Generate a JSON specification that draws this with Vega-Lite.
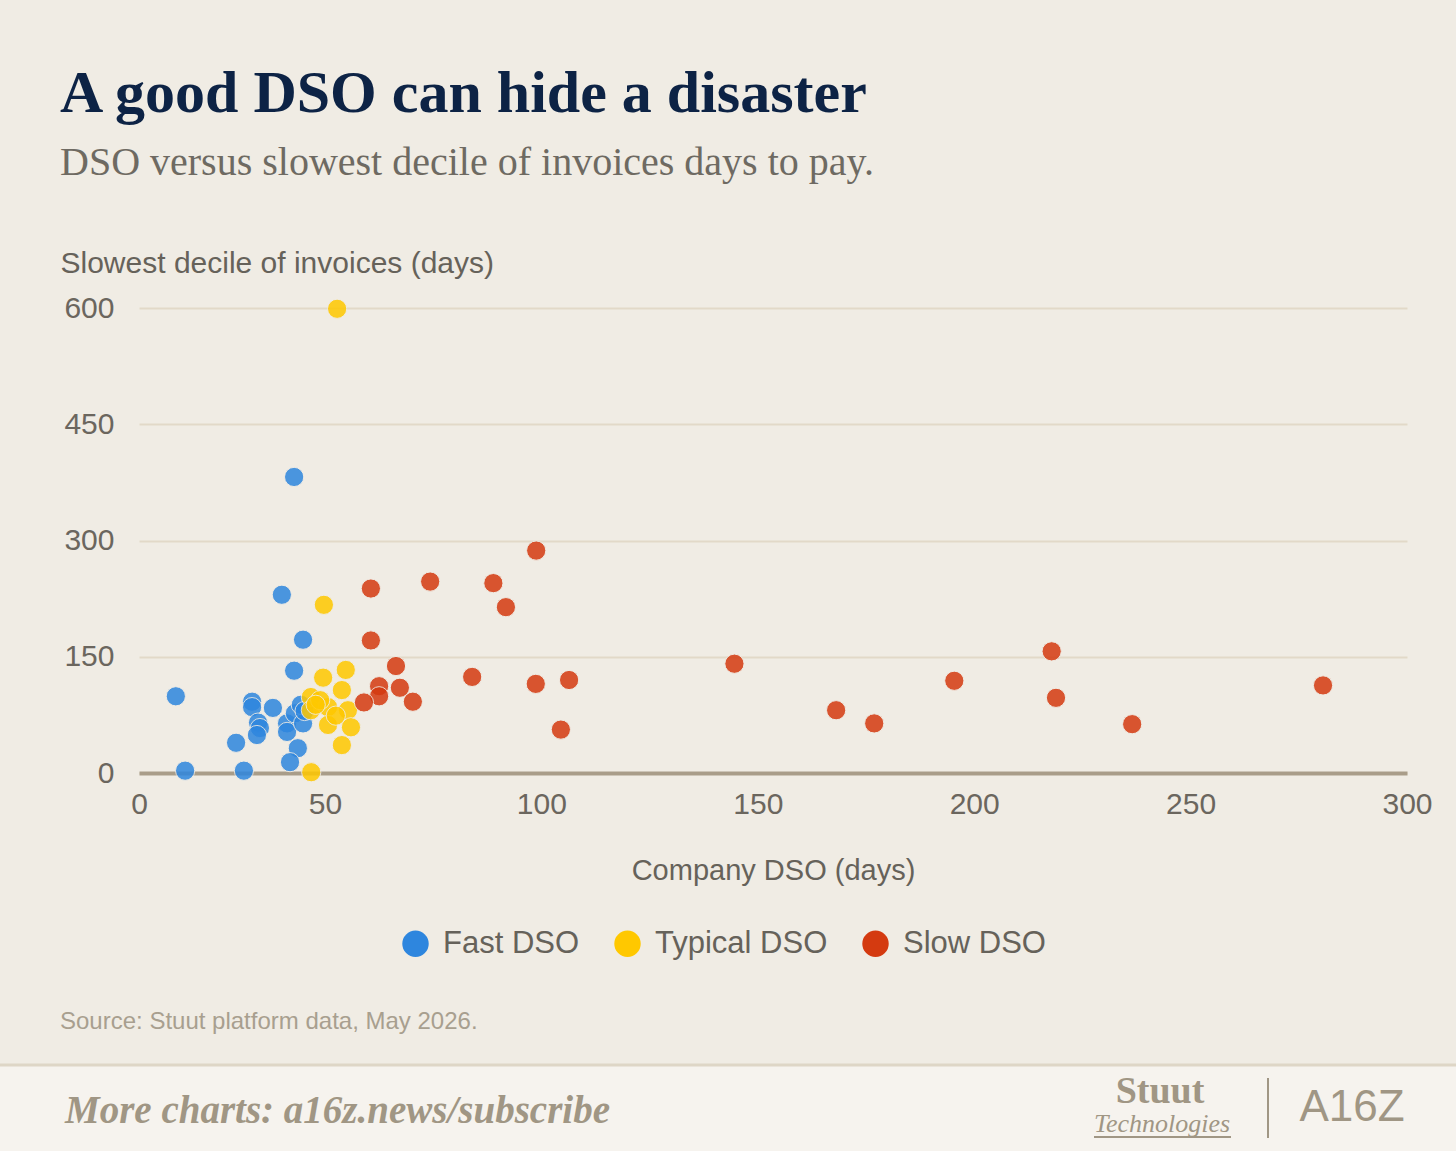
{
  "$schema": "https://vega.github.io/schema/vega-lite/v6.json",
  "width": 1268,
  "height": 465,
  "autosize": {"type": "none"},
  "padding": {"left": 139, "top": 308, "right": 49, "bottom": 378},
  "background": "#F0ECE4",
  "config": {
    "view": {"stroke": null},
    "font": "Liberation Sans"
  },
  "title": {
    "text": "A good DSO can hide a disaster",
    "subtitle": "DSO versus slowest decile of invoices days to pay.",
    "anchor": "start",
    "frame": "group",
    "dx": -79,
    "offset": 64,
    "font": "Liberation Serif",
    "fontSize": 60,
    "fontWeight": "bold",
    "color": "#0D2345",
    "subtitleFont": "Liberation Serif",
    "subtitleFontSize": 40,
    "subtitleColor": "#6E6A62",
    "subtitlePadding": 18
  },
  "datasets": {
    "invoices": [
      {"dso": 41.7, "slowest": 382, "group": "Fast DSO"},
      {"dso": 38.4, "slowest": 230, "group": "Fast DSO"},
      {"dso": 44.1, "slowest": 172, "group": "Fast DSO"},
      {"dso": 41.7, "slowest": 132, "group": "Fast DSO"},
      {"dso": 9.9, "slowest": 99, "group": "Fast DSO"},
      {"dso": 30.4, "slowest": 92, "group": "Fast DSO"},
      {"dso": 30.4, "slowest": 85, "group": "Fast DSO"},
      {"dso": 36.0, "slowest": 84, "group": "Fast DSO"},
      {"dso": 32.0, "slowest": 65, "group": "Fast DSO"},
      {"dso": 32.5, "slowest": 58, "group": "Fast DSO"},
      {"dso": 31.7, "slowest": 49, "group": "Fast DSO"},
      {"dso": 26.1, "slowest": 39, "group": "Fast DSO"},
      {"dso": 39.8, "slowest": 64, "group": "Fast DSO"},
      {"dso": 39.8, "slowest": 53, "group": "Fast DSO"},
      {"dso": 41.9, "slowest": 77, "group": "Fast DSO"},
      {"dso": 44.1, "slowest": 64, "group": "Fast DSO"},
      {"dso": 42.7, "slowest": 32, "group": "Fast DSO"},
      {"dso": 40.6, "slowest": 14, "group": "Fast DSO"},
      {"dso": 28.2, "slowest": 3, "group": "Fast DSO"},
      {"dso": 12.4, "slowest": 3, "group": "Fast DSO"},
      {"dso": 43.5, "slowest": 88, "group": "Fast DSO"},
      {"dso": 44.5, "slowest": 80, "group": "Fast DSO"},
      {"dso": 52.8, "slowest": 599, "group": "Typical DSO"},
      {"dso": 49.7, "slowest": 217, "group": "Typical DSO"},
      {"dso": 49.5, "slowest": 123, "group": "Typical DSO"},
      {"dso": 54.8, "slowest": 133, "group": "Typical DSO"},
      {"dso": 53.9, "slowest": 107, "group": "Typical DSO"},
      {"dso": 46.2, "slowest": 98, "group": "Typical DSO"},
      {"dso": 46.2, "slowest": 81, "group": "Typical DSO"},
      {"dso": 50.7, "slowest": 85, "group": "Typical DSO"},
      {"dso": 55.3, "slowest": 81, "group": "Typical DSO"},
      {"dso": 50.7, "slowest": 62, "group": "Typical DSO"},
      {"dso": 56.0, "slowest": 59, "group": "Typical DSO"},
      {"dso": 53.9, "slowest": 36, "group": "Typical DSO"},
      {"dso": 46.3, "slowest": 1, "group": "Typical DSO"},
      {"dso": 48.7, "slowest": 94, "group": "Typical DSO"},
      {"dso": 52.5, "slowest": 74, "group": "Typical DSO"},
      {"dso": 47.5, "slowest": 88, "group": "Typical DSO"},
      {"dso": 60.6, "slowest": 238, "group": "Slow DSO"},
      {"dso": 74.3, "slowest": 247, "group": "Slow DSO"},
      {"dso": 88.9, "slowest": 245, "group": "Slow DSO"},
      {"dso": 91.8, "slowest": 214, "group": "Slow DSO"},
      {"dso": 60.6, "slowest": 171, "group": "Slow DSO"},
      {"dso": 66.4, "slowest": 138, "group": "Slow DSO"},
      {"dso": 84.0, "slowest": 124, "group": "Slow DSO"},
      {"dso": 98.7, "slowest": 115, "group": "Slow DSO"},
      {"dso": 106.4, "slowest": 120, "group": "Slow DSO"},
      {"dso": 62.5, "slowest": 112, "group": "Slow DSO"},
      {"dso": 67.3, "slowest": 110, "group": "Slow DSO"},
      {"dso": 62.5, "slowest": 99, "group": "Slow DSO"},
      {"dso": 59.0, "slowest": 91, "group": "Slow DSO"},
      {"dso": 70.3, "slowest": 92, "group": "Slow DSO"},
      {"dso": 104.5, "slowest": 56, "group": "Slow DSO"},
      {"dso": 98.8, "slowest": 287, "group": "Slow DSO"},
      {"dso": 144.6, "slowest": 141, "group": "Slow DSO"},
      {"dso": 168.1, "slowest": 81, "group": "Slow DSO"},
      {"dso": 176.9, "slowest": 64, "group": "Slow DSO"},
      {"dso": 195.4, "slowest": 119, "group": "Slow DSO"},
      {"dso": 217.9, "slowest": 157, "group": "Slow DSO"},
      {"dso": 218.9, "slowest": 97, "group": "Slow DSO"},
      {"dso": 236.5, "slowest": 63, "group": "Slow DSO"},
      {"dso": 280.6, "slowest": 113, "group": "Slow DSO"}
    ],
    "note": [{"label": "note"}]
  },
  "layer": [
    {
      "data": {"name": "note"},
      "mark": {"type": "rect", "fill": "#F6F3EE"},
      "encoding": {
        "x": {"value": -139},
        "x2": {"value": 1317},
        "y": {"value": 758},
        "y2": {"value": 843}
      }
    },
    {
      "data": {"name": "note"},
      "mark": {"type": "rule", "stroke": "#DED6C6", "strokeWidth": 3},
      "encoding": {
        "x": {"value": -139},
        "x2": {"value": 1317},
        "y": {"value": 757}
      }
    },
    {
      "data": {"name": "invoices"},
      "mark": {"type": "circle", "size": 370, "opacity": 0.85, "stroke": "#F0ECE4", "strokeWidth": 1},
      "encoding": {
        "x": {
          "field": "dso",
          "type": "quantitative",
          "title": "Company DSO (days)",
          "scale": {"domain": [0, 50, 300], "range": [0, 186, 1268], "nice": false, "zero": false},
          "axis": {
            "values": [0, 50, 100, 150, 200, 250, 300],
            "grid": false,
            "ticks": false,
            "tickSize": 0,
            "labelFlush": false,
            "domainColor": "#A99D89",
            "domainWidth": 4,
            "labelPadding": 16,
            "labelFont": "Liberation Sans",
            "labelFontSize": 30,
            "labelColor": "#6B665E",
            "titleFont": "Liberation Sans",
            "titleFontSize": 29,
            "titleFontWeight": "normal",
            "titleColor": "#66625A",
            "titlePadding": 37
          }
        },
        "y": {
          "field": "slowest",
          "type": "quantitative",
          "title": "Slowest decile of invoices (days)",
          "scale": {"domain": [0, 600], "nice": false},
          "axis": {
            "values": [0, 150, 300, 450, 600],
            "domain": false,
            "ticks": false,
            "gridColor": "#E2D9C8",
            "gridWidth": 2,
            "labelPadding": 25,
            "labelFont": "Liberation Sans",
            "labelFontSize": 30,
            "labelColor": "#6B665E",
            "titleFont": "Liberation Sans",
            "titleFontSize": 30,
            "titleFontWeight": "normal",
            "titleColor": "#66625A",
            "titleAngle": 0,
            "titleAlign": "left",
            "titleBaseline": "middle",
            "titleX": -79,
            "titleY": -45
          }
        },
        "color": {
          "field": "group",
          "type": "nominal",
          "sort": ["Fast DSO", "Typical DSO", "Slow DSO"],
          "scale": {"domain": ["Fast DSO", "Typical DSO", "Slow DSO"], "range": ["#2E86DE", "#FFC800", "#D43A10"]},
          "legend": {
            "title": null,
            "orient": "none",
            "direction": "horizontal",
            "legendX": 261,
            "legendY": 620,
            "symbolType": "circle",
            "symbolSize": 700,
            "symbolOpacity": 1,
            "symbolStrokeWidth": 0,
            "labelFont": "Liberation Sans",
            "labelFontSize": 31,
            "labelColor": "#66625A",
            "labelLimit": 400,
            "labelOffset": 12,
            "columnPadding": 32
          }
        }
      }
    },
    {
      "data": {"name": "note"},
      "mark": {"type": "text", "text": "Source: Stuut platform data, May 2026.", "align": "left", "baseline": "middle", "font": "Liberation Sans", "fontSize": 24, "color": "#A89F8F"},
      "encoding": {"x": {"value": -79}, "y": {"value": 714}}
    },
    {
      "data": {"name": "note"},
      "mark": {"type": "text", "text": "More charts: a16z.news/subscribe", "align": "left", "baseline": "middle", "font": "Liberation Serif", "fontSize": 39, "fontWeight": "bold", "fontStyle": "italic", "color": "#A09684"},
      "encoding": {"x": {"value": -74}, "y": {"value": 803}}
    },
    {
      "data": {"name": "note"},
      "mark": {"type": "text", "text": "Stuut", "align": "center", "baseline": "middle", "font": "Liberation Serif", "fontSize": 38, "fontWeight": "bold", "color": "#A09684"},
      "encoding": {"x": {"value": 1021}, "y": {"value": 784}}
    },
    {
      "data": {"name": "note"},
      "mark": {"type": "text", "text": "Technologies", "align": "center", "baseline": "middle", "font": "Liberation Serif", "fontSize": 26, "fontStyle": "italic", "color": "#A09684"},
      "encoding": {"x": {"value": 1023}, "y": {"value": 816}}
    },
    {
      "data": {"name": "note"},
      "mark": {"type": "rule", "stroke": "#A09684", "strokeWidth": 2},
      "encoding": {"x": {"value": 955}, "x2": {"value": 1092}, "y": {"value": 829}}
    },
    {
      "data": {"name": "note"},
      "mark": {"type": "rule", "stroke": "#A09684", "strokeWidth": 2},
      "encoding": {"x": {"value": 1129}, "y": {"value": 770}, "y2": {"value": 830}}
    },
    {
      "data": {"name": "note"},
      "mark": {"type": "text", "text": "A16Z", "align": "center", "baseline": "middle", "font": "Liberation Sans", "fontSize": 44, "color": "#A09684"},
      "encoding": {"x": {"value": 1213}, "y": {"value": 800}}
    }
  ]
}
